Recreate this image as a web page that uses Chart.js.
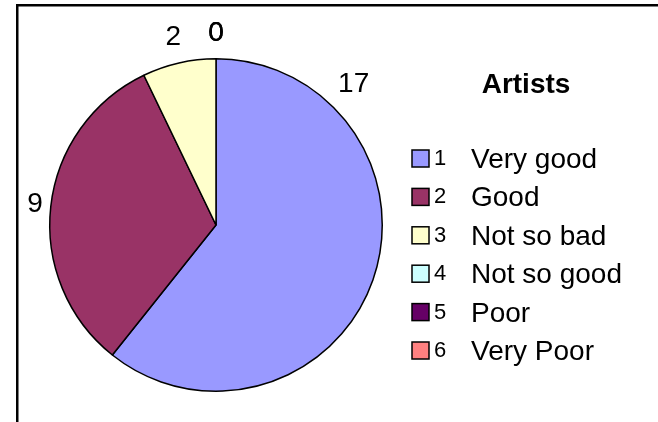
<!DOCTYPE html>
<html>
<head>
<meta charset="utf-8">
<title>Artists</title>
<script src="https://cdn.jsdelivr.net/npm/chart.js@4"></script>
<style>
  html, body { margin: 0; padding: 0; background: #fff; }
  #wrap { position: relative; width: 658px; height: 422px; }
  canvas { display: block; }
</style>
</head>
<body>
<div id="wrap"><canvas id="c" width="658" height="422"></canvas></div>
<script>
// Survey answers for the "Artists" question
const categories = ['Very good', 'Good', 'Not so bad', 'Not so good', 'Poor', 'Very Poor'];
const legendNumbers = ['1', '2', '3', '4', '5', '6'];
const counts = [17, 9, 2, 0, 0, 0];
const legendTitle = 'Artists';

// Classic spreadsheet pie palette
const palette = ['#9999FF', '#993366', '#FFFFCC', '#CCFFFF', '#660066', '#FF8080'];

const FONT = '"Liberation Sans", Arial, sans-serif';

// Frame lines (top and left edges of the chart box)
const framePlugin = {
  id: 'frame',
  beforeDraw(chart) {
    const ctx = chart.ctx;
    ctx.save();
    ctx.fillStyle = '#fff';
    ctx.fillRect(0, 0, chart.width, chart.height);
    ctx.fillStyle = '#000';
    ctx.fillRect(16, 4, chart.width - 16, 2.5);
    ctx.fillRect(16, 4, 2.5, chart.height - 4);
    ctx.restore();
  }
};

// Value labels placed just outside each slice
const valueLabelPlugin = {
  id: 'valueLabels',
  afterDatasetsDraw(chart, args, opts) {
    const ctx = chart.ctx;
    const meta = chart.getDatasetMeta(0);
    const values = chart.data.datasets[0].data;
    ctx.save();
    ctx.font = opts.fontSize + 'px ' + FONT;
    ctx.fillStyle = '#000';
    ctx.textAlign = 'center';
    ctx.textBaseline = 'middle';
    meta.data.forEach((arc, i) => {
      const p = arc.getProps(['x', 'y', 'startAngle', 'endAngle', 'outerRadius'], true);
      let a = (p.startAngle + p.endAngle) / 2;
      if (opts.angleOverride && opts.angleOverride[i] !== undefined) {
        a = (opts.angleOverride[i] - 90) * Math.PI / 180;
      }
      const text = String(values[i]);
      const hw = ctx.measureText(text).width / 2;
      const hh = opts.halfHeight;
      const dx = Math.cos(a), dy = Math.sin(a);
      const d = p.outerRadius + opts.gap + hw * Math.abs(dx) + hh * Math.abs(dy);
      ctx.fillText(text, p.x + d * dx, p.y + d * dy);
    });
    ctx.restore();
  }
};

// Legend box: title, swatches, item numbers and names
const legendPlugin = {
  id: 'sideLegend',
  afterDraw(chart, args, opts) {
    const ctx = chart.ctx;
    const ds = chart.data.datasets[0];
    ctx.save();
    ctx.fillStyle = '#000';
    ctx.textBaseline = 'alphabetic';
    ctx.font = 'bold ' + opts.titleSize + 'px ' + FONT;
    ctx.textAlign = 'center';
    ctx.fillText(opts.title, opts.titleX, opts.titleY);

    ctx.textAlign = 'left';
    chart.data.labels.forEach((label, i) => {
      const base = opts.firstBaseline + i * opts.rowPitch;
      const sy = base - 1 - opts.box;
      ctx.fillStyle = ds.backgroundColor[i];
      ctx.fillRect(opts.boxX, sy, opts.box, opts.box);
      ctx.strokeStyle = '#000';
      ctx.lineWidth = 1.5;
      ctx.strokeRect(opts.boxX, sy, opts.box, opts.box);

      ctx.fillStyle = '#000';
      ctx.font = opts.numberSize + 'px ' + FONT;
      ctx.fillText(opts.numbers[i], opts.numberX, base - 3);
      ctx.font = opts.textSize + 'px ' + FONT;
      ctx.fillText(label, opts.textX, base);
    });
    ctx.restore();
  }
};

new Chart(document.getElementById('c'), {
  type: 'pie',
  data: {
    labels: categories,
    datasets: [{
      data: counts,
      backgroundColor: palette,
      borderColor: '#000',
      borderWidth: 1.5
    }]
  },
  options: {
    responsive: false,
    animation: false,
    events: [],
    layout: { padding: { left: 49, right: 275, top: 58, bottom: 30 } },
    plugins: {
      legend: { display: false },
      tooltip: { enabled: false },
      valueLabels: {
        fontSize: 28,
        gap: 6,
        halfHeight: 19,
        angleOverride: { 0: 44.4 }
      },
      sideLegend: {
        title: legendTitle,
        numbers: legendNumbers,
        titleSize: 28,
        titleX: 526,
        titleY: 93,
        firstBaseline: 168,
        rowPitch: 38.4,
        box: 17,
        boxX: 412,
        numberX: 434,
        numberSize: 22,
        textX: 471,
        textSize: 28
      }
    }
  },
  plugins: [framePlugin, valueLabelPlugin, legendPlugin]
});
</script>
</body>
</html>
